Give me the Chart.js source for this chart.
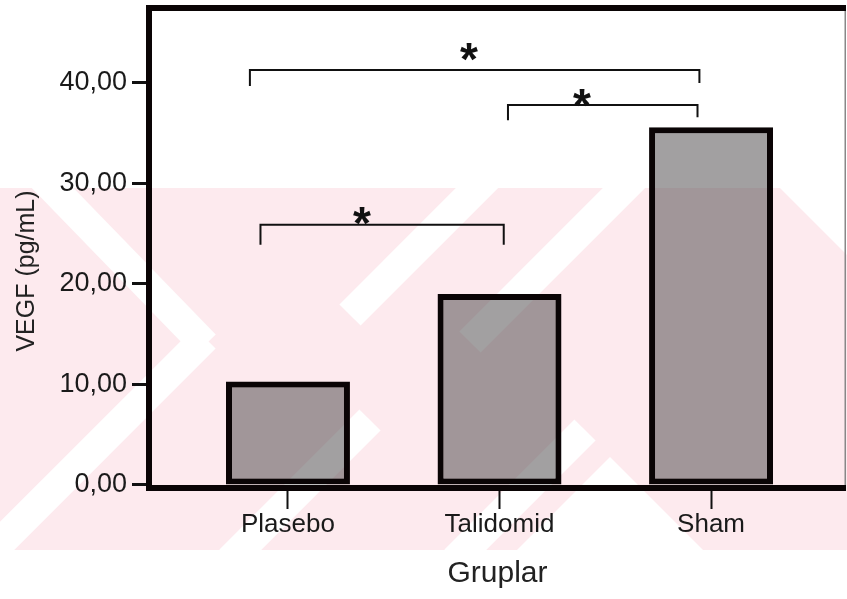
<!DOCTYPE html>
<html>
<head>
<meta charset="utf-8">
<script src="https://cdn.jsdelivr.net/npm/chart.js@4.4.1/dist/chart.umd.min.js"></script>
<style>
  html, body { margin: 0; padding: 0; background: #fff; }
  #wrap { width: 847px; height: 599px; }
</style>
</head>
<body>
<div id="wrap"><canvas id="bar-chart" width="847" height="599"></canvas></div>
<script>
// Gruplar ve VEGF degerleri
const gruplar = ['Plasebo', 'Talidomid', 'Sham'];
const vegf = [10.3, 19.0, 35.6];
const yTicks = [0, 10, 20, 30, 40];

// Anlamlilik cizgileri (veri koordinatlari)
const bracketFrom = [-0.18, 1.04, -0.13];
const bracketTo = [1.945, 1.936, 1.02];
const bracketTop = [41.3, 37.8, 25.9];
const bracketLeftEnd = [39.7, 36.3, 23.9];
const bracketRightEnd = [40.0, 36.6, 23.9];
const starX = [0.856, 1.39, 0.35];
const starY = [43.5, 38.9, 27.2];

const yazi = '"Liberation Sans", Arial, sans-serif';
const siyah = '#0a0405';

// arka plandaki pembe filigran (yaklasik)
const filigran = {
    id: 'filigran',
    beforeDraw(chart) {
        const c = chart.ctx;
        c.save();
        c.beginPath();
        c.rect(0, 188, 847, 362);
        c.clip();
        c.fillStyle = '#fdeaee';
        c.fillRect(0, 188, 847, 362);
        c.strokeStyle = '#ffffff';
        c.fillStyle = '#ffffff';
        c.lineWidth = 30;
        const seritler = [
            [40, 175, 205, 345],
            [-10, 553, 205, 338],
            [490, 175, 350, 315],
            [640, 172, 470, 342],
            [585, 430, 455, 560],
            [230, 560, 370, 420]
        ];
        seritler.forEach(s => {
            c.beginPath();
            c.moveTo(s[0], s[1]);
            c.lineTo(s[2], s[3]);
            c.stroke();
        });
        c.beginPath();
        c.moveTo(610, 457);
        c.lineTo(515, 552);
        c.lineTo(705, 552);
        c.closePath();
        c.fill();
        c.beginPath();
        c.moveTo(780, 188);
        c.lineTo(847, 188);
        c.lineTo(847, 255);
        c.closePath();
        c.fill();
        c.restore();
    }
};

// cerceve, anlamlilik cizgileri ve y ekseni basligi
const cerceve = {
    id: 'cerceve',
    afterDraw(chart) {
        const c = chart.ctx;
        const a = chart.chartArea;
        const x = chart.scales.x;
        const y = chart.scales.y;
        c.save();
        c.fillStyle = siyah;
        c.fillRect(a.left - 3, a.top - 3, a.right - a.left + 3, 6);
        c.fillRect(a.left - 3, a.top - 3, 6, a.bottom - a.top + 6);
        c.fillRect(a.left - 3, a.bottom - 3, a.right - a.left + 3, 6);
        c.fillStyle = '#888';
        c.fillRect(a.right - 1.5, a.top + 3, 1.5, a.bottom - a.top - 6);

        c.strokeStyle = '#111';
        c.lineWidth = 2;
        c.fillStyle = '#111';
        c.font = 'bold 46px ' + yazi;
        c.textAlign = 'center';
        c.textBaseline = 'alphabetic';
        for (let i = 0; i < bracketFrom.length; i++) {
            const x1 = x.getPixelForValue(bracketFrom[i]);
            const x2 = x.getPixelForValue(bracketTo[i]);
            const yt = y.getPixelForValue(bracketTop[i]);
            c.beginPath();
            c.moveTo(x1, y.getPixelForValue(bracketLeftEnd[i]));
            c.lineTo(x1, yt);
            c.lineTo(x2, yt);
            c.lineTo(x2, y.getPixelForValue(bracketRightEnd[i]));
            c.stroke();
            c.fillText('*', x.getPixelForValue(starX[i]), y.getPixelForValue(starY[i]) + 27);
        }

        c.translate(27, 271);
        c.rotate(-Math.PI / 2);
        c.font = '25px ' + yazi;
        c.fillStyle = '#222';
        c.textBaseline = 'middle';
        c.fillText('VEGF (pg/mL)', 0, 0);
        c.restore();
    }
};

new Chart(document.getElementById('bar-chart'), {
    type: 'bar',
    data: {
        datasets: [{
            data: gruplar.map((g, i) => ({ x: i, y: vegf[i] })),
            backgroundColor: 'rgba(70, 66, 68, 0.5)',
            borderColor: siyah,
            borderWidth: 6,
            borderSkipped: false,
            barPercentage: 0.586,
            categoryPercentage: 1
        }]
    },
    options: {
        responsive: false,
        animation: false,
        layout: { padding: { top: 8, right: 1, left: 0, bottom: 0 }, autoPadding: false },
        plugins: {
            legend: { display: false },
            tooltip: { enabled: false }
        },
        scales: {
            x: {
                type: 'linear',
                offset: false,
                min: -0.657,
                max: 2.638,
                afterBuildTicks: s => { s.ticks = gruplar.map((g, i) => ({ value: i })); },
                afterFit: s => { s.height = 111; s.paddingLeft = 0; s.paddingRight = 0; },
                ticks: {
                    callback: v => gruplar[v],
                    font: { family: yazi, size: 26 },
                    color: '#1a1a1a',
                    padding: 0,
                    maxRotation: 0,
                    autoSkip: false
                },
                grid: { offset: false, drawOnChartArea: false, tickLength: 21, tickWidth: 2, tickColor: '#111' },
                border: { display: false },
                title: {
                    display: true,
                    text: 'Gruplar',
                    font: { family: yazi, size: 30 },
                    color: '#222',
                    padding: { top: 0, bottom: 7 }
                }
            },
            y: {
                min: -0.3,
                max: 47.46,
                afterBuildTicks: s => { s.ticks = yTicks.map(v => ({ value: v })); },
                afterFit: s => { s.width = 149; s.paddingTop = 0; s.paddingBottom = 0; },
                ticks: {
                    callback: v => v.toFixed(2).replace('.', ','),
                    font: { family: yazi, size: 27 },
                    color: '#1a1a1a',
                    padding: 5
                },
                grid: { drawOnChartArea: false, tickLength: 17, tickWidth: 3, tickColor: '#111' },
                border: { display: false }
            }
        }
    },
    plugins: [filigran, cerceve]
});
</script>
</body>
</html>
